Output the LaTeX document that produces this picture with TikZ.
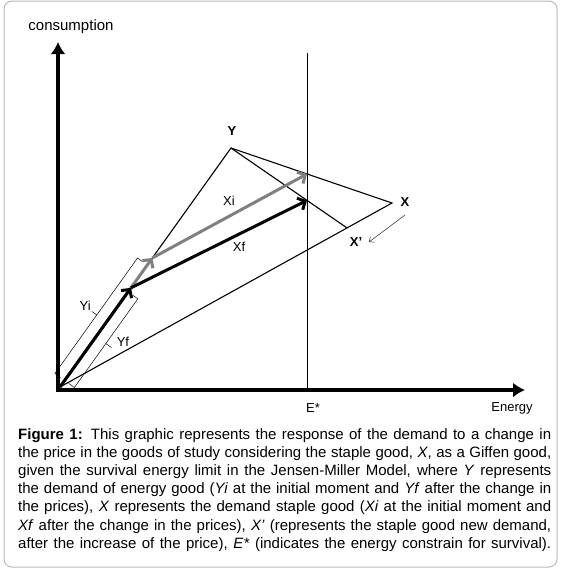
\documentclass[tikz,border=0pt]{standalone}
\usepackage{fontspec}
\setmainfont{Liberation Sans}
\usetikzlibrary{arrows.meta,calc}

\begin{document}
\begin{tikzpicture}[
  x=1pt, y=-1pt,
  frame/.style={draw=gray!55, line width=1pt, rounded corners=8pt},
  axis/.style={line width=4pt, -{Latex[length=12pt,width=15pt]}},
  budget/.style={line width=1.1pt},
  limit/.style={line width=0.8pt},
  demand/.style={line width=3pt, -{Straight Barb[length=6pt,width=13pt]}},
  brace/.style={line width=0.5pt},
  pricemove/.style={line width=0.5pt, gray!30!black, -{Straight Barb[length=4pt,width=7pt]}},
  lbl/.style={font=\fontsize{13}{15}\selectfont, inner sep=1pt},
  good/.style={font=\bfseries\fontsize{13}{15}\selectfont, inner sep=1pt},
]
  \useasboundingbox (0,0) rectangle (564,571);
  \draw[frame] (4,1) rectangle (557,567);

  % -- Points of the diagram --
  \coordinate (O) at (60,387);
  \coordinate (Y) at (231,148);
  \coordinate (X) at (392,203);
  \coordinate (Xp) at ($(O)!0.8645!(X)$);
  \coordinate (Etop) at (307,53);
  \coordinate (Ebot) at (307,390);
  \coordinate (Qi) at (intersection of Y--X and Etop--Ebot);
  \coordinate (Qf) at (intersection of Y--Xp and Etop--Ebot);
  \coordinate (Pi) at ($(O)!0.54!(Y)$);
  \coordinate (Pf) at ($(O)!0.415!(Y)$);

  % -- Axes --
  \coordinate (yaxis0) at (58,392);
  \coordinate (yaxis1) at (58,42);
  \coordinate (xaxis0) at (56,390);
  \coordinate (xaxis1) at (525,390);
  \draw[axis] (yaxis0) -- (yaxis1);
  \draw[axis] (xaxis0) -- (xaxis1);
  \node[font=\fontsize{15}{17}\selectfont] (cons) at (71,27) {consumption};
  \node[lbl] (energy) at (512,408) {Energy};

  % -- Budget lines and survival limit --
  \draw[limit] (Etop) -- (Ebot);
  \node[lbl] (estar) at (313,408) {E*};
  \draw[budget] (O) -- (Y) -- (X) -- cycle;
  \draw[budget] (Y) -- (Xp);

  % -- Demand vectors --
  \draw[demand, gray] (O) -- (Pi);
  \draw[demand, gray] (Pi) -- (Qi);
  \draw[demand] (O) -- (Pf);
  \draw[demand] (Pf) -- (Qf);

  % -- Brackets for Yi and Yf --
  \coordinate (bi1) at ($(O)!8pt!(Y)$);
  \coordinate (bim) at ($(O)!80pt!(Y)$);
  \coordinate (bi2) at ($(O)!150pt!(Y)$);
  \draw[brace] ($(bi1)!5pt!90:(Y)$) -- ($(bi1)!12pt!90:(Y)$)
    -- ($(bi2)!12pt!90:(Y)$) -- ($(bi2)!6pt!90:(Y)$);
  \draw[brace] ($(bim)!12pt!90:(Y)$) -- ($(bim)!18pt!90:(Y)$)
    node[lbl, anchor=south east] (yi) {Yi};
  \coordinate (bf1) at ($(O)!8pt!(Y)$);
  \coordinate (bfm) at ($(O)!62pt!(Y)$);
  \coordinate (bf2) at ($(O)!117pt!(Y)$);
  \draw[brace] ($(bf1)!5pt!-90:(Y)$) -- ($(bf1)!12pt!-90:(Y)$)
    -- ($(bf2)!12pt!-90:(Y)$) -- ($(bf2)!6pt!-90:(Y)$);
  \draw[brace] ($(bfm)!12pt!-90:(Y)$) -- ($(bfm)!19pt!-90:(Y)$)
    node[lbl, anchor=south west, xshift=4pt] (yf) {Yf};

  % -- Labels of goods --
  \node[good] (ylab) at (232,131) {Y};
  \node[good] (xlab) at (405,202) {X};
  \node[good] (xplab) at (356,242) {X'};
  \node[lbl] (xi) at (229,201) {Xi};
  \node[lbl] (xf) at (239,247) {Xf};
  \coordinate (s1) at (405,215);
  \coordinate (s2) at (369,242);
  \draw[pricemove] (s1) -- (s2);

  % -- Caption --
  \node[anchor=north west, inner sep=0pt] (caption) at (18,428) {%
    \parbox{533pt}{\fontsize{15}{18.2}\selectfont\parfillskip=0pt\noindent
    \textbf{Figure 1:} This graphic represents the response of the demand to a change in\linebreak
    the price in the goods of study considering the staple good, \textit{X}, as a Giffen good,\linebreak
    given the survival energy limit in the Jensen-Miller Model, where \textit{Y} represents\linebreak
    the demand of energy good (\textit{Yi} at the initial moment and \textit{Yf} after the change in\linebreak
    the prices), \textit{X} represents the demand staple good (\textit{Xi} at the initial moment and\linebreak
    \textit{Xf} after the change in the prices), \textit{X'} (represents the staple good new demand,\linebreak
    after the increase of the price), \textit{E*} (indicates the energy constrain for survival).}};
\end{tikzpicture}
\end{document}
